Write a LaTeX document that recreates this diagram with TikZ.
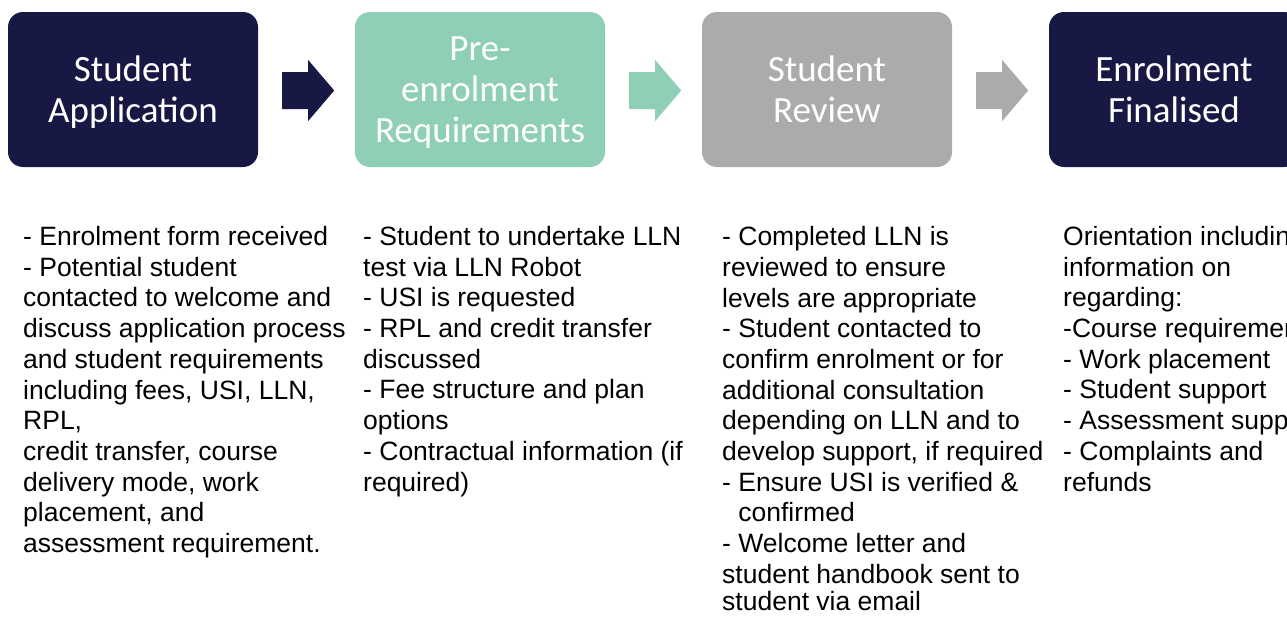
\documentclass[tikz,border=0pt]{standalone}
\usepackage{fontspec}
\setmainfont{Liberation Sans}
\newfontfamily\titlefont{Carlito}
\usetikzlibrary{calc}
\definecolor{navy}{RGB}{24,24,69}
\definecolor{mint}{RGB}{142,207,181}
\definecolor{stone}{RGB}{171,171,171}
\begin{document}
\begin{tikzpicture}[x=1pt,y=-1pt,
  stage/.style={rounded corners=15pt, minimum width=250pt, minimum height=155pt,
    inner sep=0pt, text=white, align=center, text height=75pt, text depth=10pt,
    font=\titlefont\fontsize{37}{41}\selectfont},
  bodytext/.style={anchor=base west, inner sep=0pt, align=left,
    font=\fontsize{26.5}{30.7}\selectfont}]
\useasboundingbox (0,0) rectangle (1287,616);
\clip (0,0) rectangle (1287,616);
\node[stage, fill=navy] (s1) at (133,89.5) {Student\\Application};
\node[stage, fill=mint, text height=115pt] (s2) at (480,89.5) {Pre-\\enrolment\\Requirements};
\node[stage, fill=stone] (s3) at (827,89.5) {Student\\Review};
\node[stage, fill=navy] (s4) at (1174,89.5) {Enrolment\\Finalised};
\foreach \a/\c in {s1/navy, s2/mint, s3/stone}{
  \fill[\c] ($(\a.east)+(24,-17.5)$) -- ++(26,0) -- ++(0,-12) -- ++(26,30.5)
    -- ++(-26,30.5) -- ++(0,-12) -- ++(-26,0) -- cycle;
}
\node[bodytext] (t1) at (23,552.5) {- Enrolment form received\\- Potential student\\contacted to welcome and\\discuss application process\\and student requirements\\including fees, USI, LLN,\\RPL,\\credit transfer, course\\delivery mode, work\\placement, and\\assessment requirement.};
\node[bodytext] (t2) at (363,491) {- Student to undertake LLN\\test via LLN Robot\\- USI is requested\\- RPL and credit transfer\\discussed\\- Fee structure and plan\\options\\- Contractual information (if\\required)};
\node[bodytext] (t3) at (722,610) {- Completed LLN is\\reviewed to ensure\\levels are appropriate\\- Student contacted to\\confirm enrolment or for\\additional consultation\\depending on LLN and to\\develop support, if required\\- Ensure USI is verified \&\\\hspace*{16.2pt}confirmed\\- Welcome letter and\\student handbook sent to\\[-4pt]student via email};
\node[bodytext] (t4) at (1063,491) {Orientation including\\information on\\regarding:\\-Course requirements\\- Work placement\\- Student support\\- Assessment support\\- Complaints and\\refunds};
\end{tikzpicture}
\end{document}
